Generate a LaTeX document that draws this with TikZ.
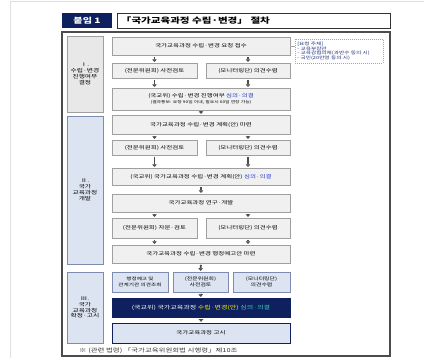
\documentclass[tikz,border=0pt]{standalone}
\usepackage{fontspec}
\setmainfont{Noto Sans CJK KR}[FakeStretch=1.35]
\usepackage{xcolor}
\usetikzlibrary{arrows.meta}
\definecolor{navy}{HTML}{0E215E}
\definecolor{paleblue}{HTML}{DCE4F1}
\definecolor{slate}{HTML}{7D8BAE}
\definecolor{deepblue}{HTML}{2030C8}
\definecolor{whoblue}{HTML}{1B2A78}
\definecolor{mint}{HTML}{3FD3C3}
\definecolor{lemon}{HTML}{FFF200}

\begin{document}
\begin{tikzpicture}[x=1pt, y=-1pt,
    stepbox/.style={draw=gray!75, fill=gray!12, line width=0.6pt, inner sep=0pt,
        minimum width=178pt, align=center, text=black,
        font=\fontsize{4.8}{6}\selectfont},
    halfbox/.style={stepbox, minimum width=85pt},
    bluebox/.style={stepbox, draw=slate, fill=paleblue},
    keybox/.style={stepbox, draw=navy, fill=navy, text=white,
        font=\fontsize{5.2}{6}\selectfont},
    stagebox/.style={draw=gray!75, fill=gray!18, line width=0.6pt, inner sep=0pt,
        minimum width=36pt, align=center, text=black,
        font=\fontsize{5}{5.8}\selectfont},
    bluestage/.style={stagebox, draw=slate, fill=paleblue},
    reqbox/.style={draw=gray!70, dash pattern=on 1pt off 1pt, line width=0.5pt,
        inner sep=2pt, text width=84pt, minimum height=24pt, align=left,
        text=whoblue, font=\fontsize{4.2}{4.8}\selectfont},
    arr/.style={draw=gray!60!black, line width=1.8pt,
        -{Triangle[width=4.6pt,length=2.6pt]}, shorten <=1.5pt, shorten >=0.8pt}
]
    \useasboundingbox (0,0) rectangle (424,358);
    % page edge
    \draw[gray!25, line width=0.8pt] (10,358) -- (10,1) -- (424,1);

    % Header
    \node[fill=navy, minimum width=50pt, minimum height=15pt, inner sep=0pt,
        text=white, font=\bfseries\fontsize{7.5}{8}\selectfont] (tag) at (87,20.5) {붙임 1};
    \node[draw=black!80, line width=0.8pt, minimum height=15pt, inner xsep=4pt, inner ysep=0pt,
        text width=265pt, align=left, font=\bfseries\fontsize{7.8}{8}\selectfont] (title) at (253.5,20.5)
        {「국가교육과정 수립·변경」 절차};

    % Frame
    \draw[gray!60!black, line width=1.2pt] (62,32) rectangle (390,356);

    % Stages
    \node[stagebox, minimum height=76pt] (s1) at (85,74) {Ⅰ.\\수립·변경\\진행여부\\결정};
    \node[bluestage, minimum height=148pt] (s2) at (85,190) {Ⅱ.\\국가\\교육과정\\개발};
    \node[bluestage, minimum height=71pt] (s3) at (85,307.5) {Ⅲ.\\국가\\교육과정\\확정·고시};

    % I. 수립·변경 진행여부 결정
    \node[stepbox, minimum height=18pt] (req1) at (201,46) {국가교육과정 수립·변경 요청 접수};
    \node[halfbox, minimum height=15pt] (rev1) at (154.5,70.5) {(전문위원회) 사전검토};
    \node[halfbox, minimum width=84pt, minimum height=15pt] (mon1) at (248,70.5) {(모니터링단) 의견수렴};
    \node[stepbox, minimum height=22pt] (dec1) at (201,99)
        {(국교위) 수립·변경 진행여부 \textcolor{deepblue}{심의·의결}\\
         {\fontsize{3.6}{4.6}\selectfont (결과통보: 요청 90일 이내, 필요시 60일 연장 가능)}};
    \node[reqbox, anchor=north west] (who) at (295,39)
        {[요청 주체]\\- 교육부장관\\- 교육감협의체(과반수 동의 시)\\- 국민(20만명 동의 시)};
    \draw[gray!70, line width=0.6pt] (req1.east) -- (req1.east -| who.west);

    % II. 국가교육과정 개발
    \node[stepbox, minimum height=19pt] (plan) at (201,124.5) {국가교육과정 수립·변경 계획(안) 마련};
    \node[halfbox, minimum height=15pt] (rev2) at (154.5,147.5) {(전문위원회) 사전검토};
    \node[halfbox, minimum width=84pt, minimum height=15pt] (mon2) at (248,147.5) {(모니터링단) 의견수렴};
    \node[stepbox, minimum height=17pt] (dec2) at (201,176.5)
        {(국교위) 국가교육과정 수립·변경 계획(안) \textcolor{deepblue}{심의·의결}};
    \node[stepbox, minimum height=18pt] (dev) at (201,203) {국가교육과정 연구·개발};
    \node[halfbox, minimum height=20pt] (rev3) at (154.5,228) {(전문위원회) 자문·검토};
    \node[halfbox, minimum width=84pt, minimum height=20pt] (mon3) at (248,228) {(모니터링단) 의견수렴};
    \node[stepbox, minimum height=18pt] (draft) at (201,254) {국가교육과정 수립·변경 행정예고안 마련};

    % III. 국가교육과정 확정·고시
    \node[bluebox, minimum width=56pt, minimum height=20pt, font=\fontsize{4.2}{5.4}\selectfont]
        (notice) at (140,282) {행정예고 및\\관계기관 의견조회};
    \node[bluebox, minimum width=55pt, minimum height=20pt, font=\fontsize{4.4}{5.6}\selectfont]
        (rev4) at (200.5,282) {(전문위원회)\\사전검토};
    \node[bluebox, minimum width=57pt, minimum height=20pt, font=\fontsize{4.4}{5.6}\selectfont]
        (mon4) at (261.5,282) {(모니터링단)\\의견수렴};
    \node[keybox, minimum height=19pt] (final) at (201,307.5)
        {(국교위) 국가교육과정 \textcolor{lemon}{수립·변경(안)} \textcolor{mint}{심의·의결}};
    \node[bluebox, draw=navy, line width=0.8pt, minimum height=20pt] (pub) at (201,333) {국가교육과정 고시};

    \node[anchor=west, inner sep=0pt, text=black!80, font=\fontsize{5.5}{6}\selectfont] (law) at (79,351)
        {※ (관련 법령) 「국가교육위원회법 시행령」제10조};

    % Arrows
    \draw[arr] (rev1.north |- req1.south) -- (rev1.north);
    \draw[arr] (mon1.north |- req1.south) -- (mon1.north);
    \draw[arr] (rev1.south) -- (rev1.south |- dec1.north);
    \draw[arr] (mon1.south) -- (mon1.south |- dec1.north);
    \draw[arr] (dec1.south) -- (plan.north);
    \draw[arr] (rev2.north |- plan.south) -- (rev2.north);
    \draw[arr] (mon2.north |- plan.south) -- (mon2.north);
    \draw[arr] (rev2.south) -- (rev2.south |- dec2.north);
    \draw[arr] (mon2.south) -- (mon2.south |- dec2.north);
    \draw[arr] (dec2.south) -- (dev.north);
    \draw[arr] (rev3.north |- dev.south) -- (rev3.north);
    \draw[arr] (mon3.north |- dev.south) -- (mon3.north);
    \draw[arr] (rev3.south) -- (rev3.south |- draft.north);
    \draw[arr] (mon3.south) -- (mon3.south |- draft.north);
    \draw[arr] (draft.south) -- (rev4.north);
    \draw[arr] (rev4.south) -- (final.north);
    \draw[arr] (final.south) -- (pub.north);
\end{tikzpicture}
\end{document}
